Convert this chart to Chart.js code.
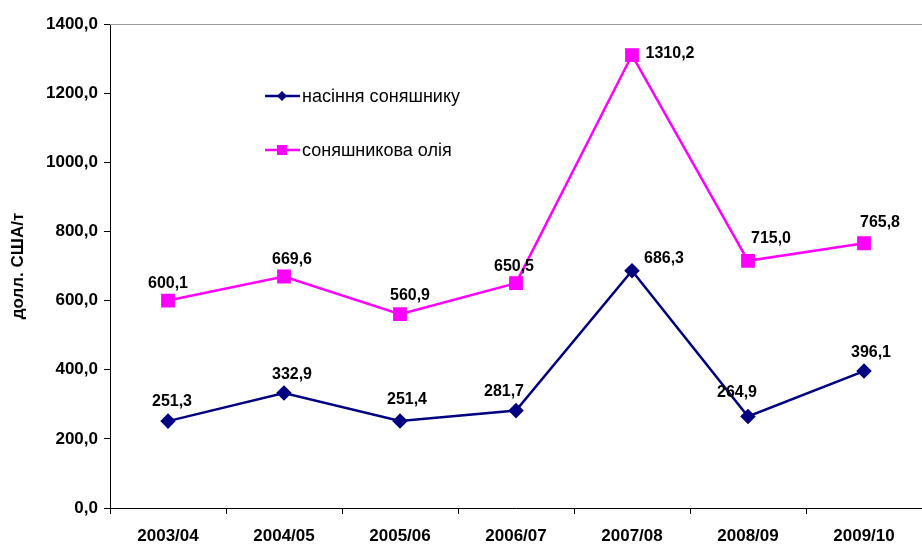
<!DOCTYPE html>
<html>
<head>
<meta charset="utf-8">
<script src="https://cdn.jsdelivr.net/npm/chart.js@4"></script>
<style>
  html, body { margin: 0; padding: 0; background: #fff; }
  #wrap { width: 922px; height: 544px; }
</style>
</head>
<body>
<div id="wrap"><canvas id="chart" width="922" height="544"></canvas></div>
<script>
const seasons = ['2003/04', '2004/05', '2005/06', '2006/07', '2007/08', '2008/09', '2009/10'];
const seedPrices = [251.3, 332.9, 251.4, 281.7, 686.3, 264.9, 396.1];
const oilPrices = [600.1, 669.6, 560.9, 650.5, 1310.2, 715.0, 765.8];
const seedName = 'насіння соняшнику';
const oilName = 'соняшникова олія';

// label offsets from each point [dx, dy]
const seedLabelOffsets = [[4, -20], [8, -18], [7, -21], [-12, -19], [32, -12], [-11, -24], [7, -18]];
const oilLabelOffsets = [[0, -17], [8, -17], [10, -18], [-2, -17], [38, -1], [23, -22], [16, -21]];

const fmt = v => v.toFixed(1).replace('.', ',');
const FONT = '"Liberation Sans", Arial, sans-serif';

const labelPlugin = {
    id: 'valueLabels',
    afterDatasetsDraw(chart) {
        const ctx = chart.ctx;
        ctx.save();
        ctx.font = 'bold 16px ' + FONT;
        ctx.fillStyle = '#000';
        ctx.textBaseline = 'middle';
        ctx.textAlign = 'center';
        chart.data.datasets.forEach((ds, i) => {
            const meta = chart.getDatasetMeta(i);
            meta.data.forEach((pt, j) => {
                const off = ds.labelOffsets[j];
                ctx.fillText(fmt(ds.data[j]), pt.x + off[0], pt.y + off[1]);
            });
        });
        ctx.restore();
    },
    afterDraw(chart) {
        const ctx = chart.ctx;
        const area = chart.chartArea;
        ctx.save();
        // top border line at 1400
        ctx.strokeStyle = '#999';
        ctx.lineWidth = 1;
        ctx.beginPath();
        ctx.moveTo(area.left, area.top + 0.5);
        ctx.lineTo(area.right, area.top + 0.5);
        ctx.stroke();

        // legend inside the plot
        const rows = [96, 150];
        ctx.font = '18px ' + FONT;
        ctx.textBaseline = 'middle';
        ctx.textAlign = 'left';
        chart.data.datasets.forEach((ds, i) => {
            const y = rows[i];
            ctx.strokeStyle = ds.borderColor;
            ctx.lineWidth = 2.5;
            ctx.beginPath();
            ctx.moveTo(265, y);
            ctx.lineTo(300, y);
            ctx.stroke();
            ctx.fillStyle = ds.borderColor;
            ctx.beginPath();
            if (ds.pointStyle === 'rect') {
                ctx.rect(277, y - 5, 10, 10);
            } else {
                ctx.moveTo(282, y - 5); ctx.lineTo(287, y); ctx.lineTo(282, y + 5); ctx.lineTo(277, y);
                ctx.closePath();
            }
            ctx.fill();
            ctx.fillStyle = '#000';
            ctx.fillText(ds.label, 302, y + 1);
        });
        ctx.restore();
    }
};

new Chart(document.getElementById('chart'), {
    type: 'line',
    data: {
        labels: seasons,
        datasets: [{
            label: seedName,
            data: seedPrices,
            labelOffsets: seedLabelOffsets,
            borderColor: '#000080',
            backgroundColor: '#000080',
            borderWidth: 2.5,
            pointStyle: 'rectRot',
            pointRadius: 6,
            tension: 0
        }, {
            label: oilName,
            data: oilPrices,
            labelOffsets: oilLabelOffsets,
            borderColor: '#FF00FF',
            backgroundColor: '#FF00FF',
            borderWidth: 2.5,
            pointStyle: 'rect',
            pointRadius: 8,
            tension: 0
        }]
    },
    options: {
        responsive: false,
        animation: false,
        layout: { autoPadding: false, padding: { top: 24, right: 0, left: 0, bottom: 0 } },
        plugins: {
            legend: { display: false },
            tooltip: { enabled: false }
        },
        scales: {
            x: {
                offset: true,
                grid: { offset: true, drawOnChartArea: false, tickLength: 6, color: '#000' },
                border: { color: '#000', width: 1 },
                ticks: {
                    color: '#000',
                    padding: 12,
                    font: { family: FONT, size: 17, weight: 'bold' },
                    maxRotation: 0,
                    autoSkip: false
                },
                afterFit(scale) { scale.height = 36; }
            },
            y: {
                min: 0,
                max: 1400,
                ticks: {
                    stepSize: 200,
                    color: '#000',
                    padding: 6,
                    font: { family: FONT, size: 17, weight: 'bold' },
                    callback: v => fmt(v)
                },
                grid: { drawOnChartArea: false, tickLength: 6, color: '#000' },
                border: { color: '#000', width: 1 },
                title: {
                    display: true,
                    text: 'долл. США/т',
                    color: '#000',
                    padding: { top: 8, bottom: 0 },
                    font: { family: FONT, size: 17, weight: 'bold' }
                },
                afterFit(scale) { scale.width = 110; }
            }
        }
    },
    plugins: [labelPlugin]
});
</script>
</body>
</html>
